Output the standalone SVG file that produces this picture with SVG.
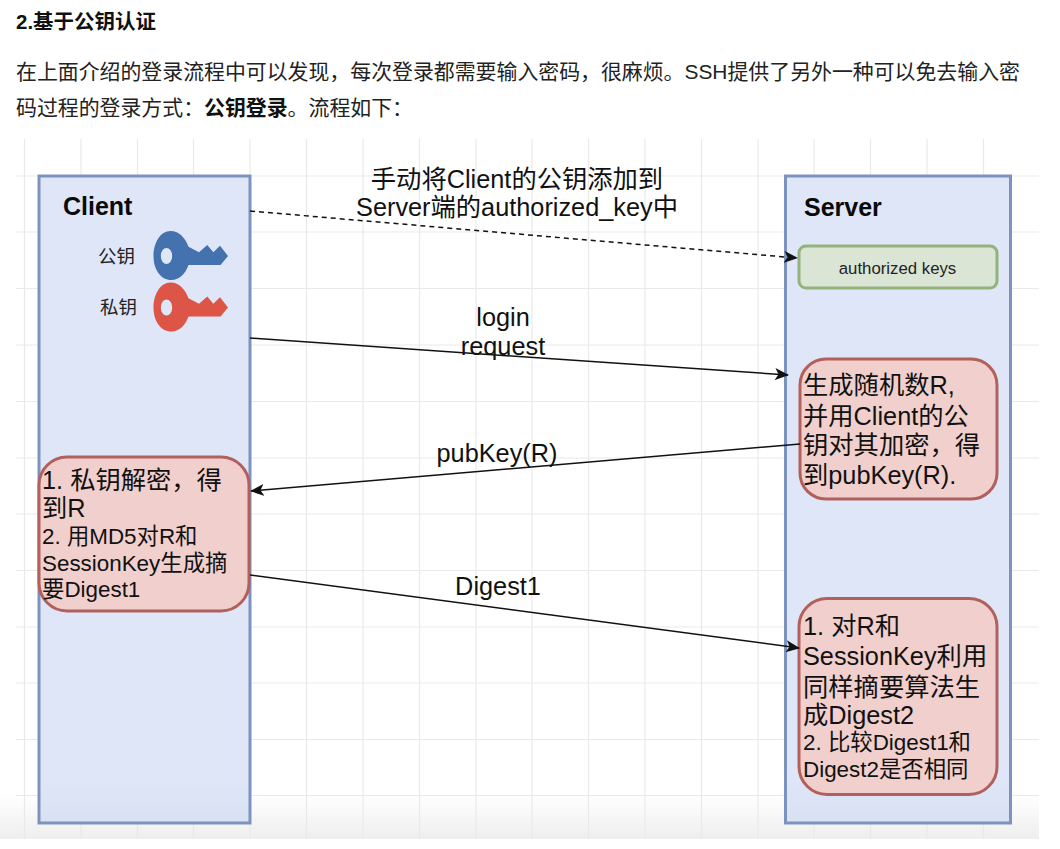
<svg xmlns="http://www.w3.org/2000/svg" width="1060" height="849" viewBox="0 0 1060 849">
<style>
text{font-family:"Liberation Sans","Noto Sans CJK SC",sans-serif;fill:#1a1a1a}
.p{font-size:20.900px;fill:#222}
.l{font-size:25.300px;fill:#111}
.n{font-size:25.300px;fill:#111}
.s{font-size:22.400px}
.t{font-size:25px;font-weight:bold;fill:#0a0a0a}
.k{font-size:18.500px;fill:#222}
.pane{fill:url(#paneFill);stroke:#7b93bd;stroke-width:3}
.red{fill:#f0cfcc;stroke:#b2605c;stroke-width:3}
.c{fill:none;stroke:#111;stroke-width:1.5}
.g{stroke:#e9e9e9;stroke-width:1.2}
</style>
<defs>
<marker id="a" markerWidth="16" markerHeight="12" refX="13" refY="6" orient="auto" markerUnits="userSpaceOnUse"><path d="M0 0L14 6L0 12L3.500 6Z" fill="#111"/></marker>
<linearGradient id="fade" x1="0" y1="0" x2="0" y2="1"><stop offset="0" stop-color="#eee" stop-opacity="0"/><stop offset="1" stop-color="#eee" stop-opacity="1"/></linearGradient>
<linearGradient id="paneFill" x1="0" y1="0" x2="0" y2="1"><stop offset="0.930" stop-color="#dee6f7"/><stop offset="1" stop-color="#d8e1f2"/></linearGradient>
<path id="key" d="M0 0.500C0-13 7-24.500 17-24.500C26-24.500 32-17 35-8.800L45.500-3.200L53.800-10.500L59.800-3.200L66.500-9.800L74.500 0.500L67 9.500H35C32 18 26 24.500 18 24.500C7 24.500 0 14 0 0.500ZM7.300 0.500A5.700 8 0 0 0 18.700 0.500A5.700 8 0 0 0 7.300 0.500Z" fill-rule="evenodd"/>
</defs>
<rect width="1060" height="849" fill="#fff"/>
<g id="article">
<text x="16" y="29" font-size="20.500" font-weight="bold" style="fill:#111">2.基于公钥认证</text>
<text x="16" y="79" class="p">在上面介绍的登录流程中可以发现，每次登录都需要输入密码，很麻烦。SSH提供了另外一种可以免去输入密</text>
<text x="16" y="115" class="p">码过程的登录方式：<tspan font-weight="bold" style="fill:#111">公钥登录</tspan>。流程如下：</text>
</g>
<g id="grid">
<rect x="0" y="795" width="1039" height="44" fill="url(#fade)"/>
<path class="g" d="M24.500 139V839M81 139V839M137.500 139V839M193.500 139V839M250 139V839M306.500 139V839M363 139V839M419.500 139V839M476 139V839M532 139V839M588.500 139V839M645 139V839M701.500 139V839M758 139V839M814 139V839M870.500 139V839M927 139V839M983.500 139V839"/>
<path class="g" d="M16 176H1039M16 232H1039M16 288.500H1039M16 345H1039M16 401.500H1039M16 458H1039M16 514H1039M16 570.500H1039M16 627H1039M16 683H1039M16 739.500H1039M16 795.500H1039"/>
</g>
<g id="client"><rect class="pane" x="39" y="176" width="211" height="647"/><text x="63" y="215" class="t">Client</text></g>
<g id="server"><rect class="pane" x="785.500" y="176" width="225" height="647"/><text x="804" y="216" class="t">Server</text></g>
<g id="pub"><text x="98" y="263" class="k">公钥</text><use href="#key" x="153.500" y="255.500" fill="#4472ae"/></g>
<g id="priv"><text x="100" y="314" class="k">私钥</text><use href="#key" x="153.500" y="307" fill="#dc5546"/></g>
<g id="auth"><rect x="799" y="246" width="198" height="42" rx="7" fill="#dbe5d6" stroke="#93b27c" stroke-width="3"/><text x="897.500" y="274" text-anchor="middle" font-size="16.800" style="fill:#222">authorized keys</text></g>
<g id="gen"><rect class="red" x="800" y="359" width="197" height="140" rx="26"/><text class="n"><tspan x="803" y="394">生成随机数R,</tspan><tspan x="803" y="425">并用Client的公</tspan><tspan x="803" y="454">钥对其加密，得</tspan><tspan x="803" y="484">到pubKey(R).</tspan></text></g>
<g id="dec"><rect class="red" x="39" y="457" width="210" height="154" rx="28"/><text class="n"><tspan x="42" y="489">1. 私钥解密，得</tspan><tspan x="42" y="517">到R</tspan><tspan x="42" y="544" class="s">2. 用MD5对R和</tspan><tspan x="42" y="571" class="s">SessionKey生成摘</tspan><tspan x="42" y="597" class="s">要Digest1</tspan></text></g>
<g id="cmp"><rect class="red" x="799" y="598.500" width="198" height="196" rx="28"/><text class="n"><tspan x="803" y="635">1. 对R和</tspan><tspan x="803" y="665">SessionKey利用</tspan><tspan x="803" y="696">同样摘要算法生</tspan><tspan x="803" y="724">成Digest2</tspan><tspan x="803" y="750" class="s">2. 比较Digest1和</tspan><tspan x="803" y="777" class="s">Digest2是否相同</tspan></text></g>
<g id="connectors">
<path class="c" stroke-dasharray="5 4" d="M250 211L797 258" marker-end="url(#a)"/>
<path class="c" d="M250 338L788 375" marker-end="url(#a)"/>
<path class="c" d="M800 444L251 491" marker-end="url(#a)"/>
<path class="c" d="M250 575L799 648" marker-end="url(#a)"/>
</g>
<g id="labels">
<text x="517" y="188" text-anchor="middle" class="l">手动将Client的公钥添加到</text>
<text x="517" y="216" text-anchor="middle" class="l">Server端的authorized_key中</text>
<text x="503" y="326" text-anchor="middle" class="l">login</text>
<text x="503" y="355" text-anchor="middle" class="l">request</text>
<text x="497" y="462" text-anchor="middle" class="l">pubKey(R)</text>
<text x="498" y="595" text-anchor="middle" class="l">Digest1</text>
</g>
</svg>
